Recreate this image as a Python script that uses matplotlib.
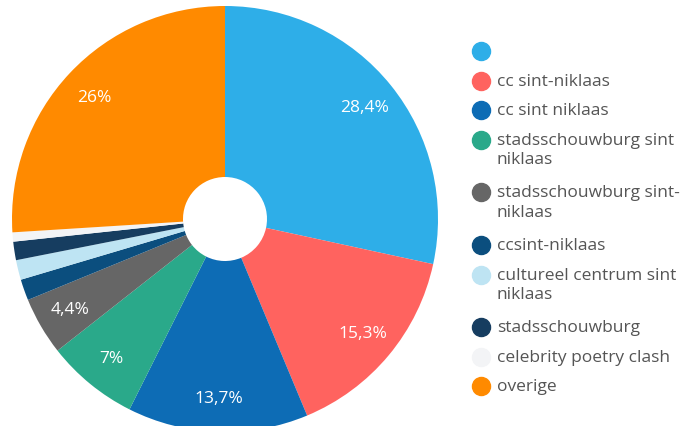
import matplotlib.pyplot as plt

# data
labels = ['', 'cc sint-niklaas', 'cc sint niklaas', 'stadsschouwburg sint\nniklaas',
          'stadsschouwburg sint-\nniklaas', 'ccsint-niklaas', 'cultureel centrum sint\nniklaas',
          'stadsschouwburg', 'celebrity poetry clash', 'overige']
values = [28.4, 15.3, 13.7, 7.0, 4.4, 1.6, 1.5, 1.4, 0.7, 26.0]
colors = ['#2EAEE8', '#FF635F', '#0D6CB5', '#2AA98A', '#666666', '#0B4E7E',
          '#BEE4F3', '#163D60', '#F3F4F6', '#FF8A00']

W, H = 689, 427
fig = plt.figure(figsize=(W / 100, H / 100), dpi=100)

# pie centre (225, 220) px, radius 213 px
cx, cy, r = 225, 220, 213
ax = fig.add_axes([(cx - r) / W, (H - cy - r) / H, 2 * r / W, 2 * r / H])

def fmt(p):
    if p < 3:
        return ''
    return ('%.1f' % p).rstrip('0').rstrip('.').replace('.', ',') + '%'

wedges, texts, autotexts = ax.pie(values, colors=colors, startangle=90, counterclock=False,
                                  radius=1, autopct=fmt, pctdistance=0.84,
                                  wedgeprops=dict(width=1 - 42 / 213, linewidth=0),
                                  textprops=dict(color='white', fontsize=12.5, family='Open Sans'))
ax.set_xlim(-1, 1)
ax.set_ylim(-1, 1)
ax.set_aspect('equal')
ax.axis('off')

# legend drawn by hand so the marker sits on the first line
y = 52
for lab, col in zip(labels, colors):
    fig.lines.append(plt.Line2D([481 / W], [1 - y / H], marker='o', markersize=13,
                                color=col, linestyle='none', transform=fig.transFigure))
    fig.text(497 / W, 1 - (y - 8) / H, lab, ha='left', va='top', fontsize=12.5,
             color='#555555', family='Open Sans', linespacing=1.3)
    n = lab.count('\n')
    y += 29.6 + n * 23

fig.savefig('out.png', dpi=100)
